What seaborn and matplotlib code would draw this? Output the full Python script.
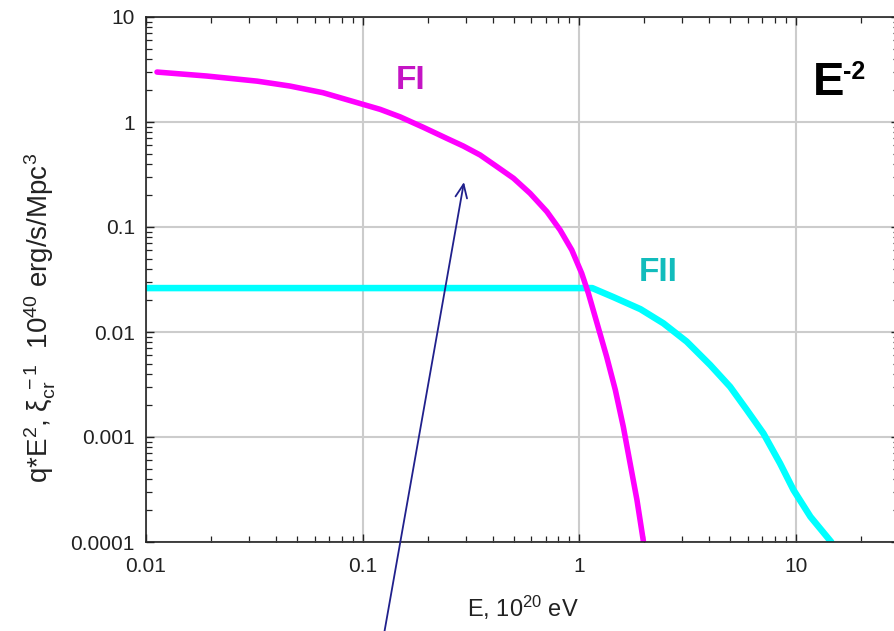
import numpy as np
import pandas as pd
import matplotlib
matplotlib.use("Agg")
import matplotlib.pyplot as plt
import seaborn as sns

# ---- data ----
fi_E = [0.01124, 0.0191, 0.0326, 0.0462, 0.0657, 0.0974, 0.1205, 0.149, 0.191,
        0.245, 0.292, 0.349, 0.417, 0.498, 0.594, 0.710, 0.817, 0.925, 1.028,
        1.104, 1.21, 1.34, 1.47, 1.60, 1.72, 1.85, 1.98]
fi_q = [2.99, 2.74, 2.45, 2.20, 1.90, 1.50, 1.32, 1.12, 0.889,
        0.698, 0.590, 0.485, 0.376, 0.291, 0.209, 0.140, 0.0936, 0.0604, 0.0362,
        0.0233, 0.0121, 0.00582, 0.0028, 0.00125, 0.000561, 0.000251, 0.000102]

fii_E = [0.01, 0.1, 1.0, 1.15, 1.44, 1.92, 2.45, 3.14, 4.03, 4.98, 5.95,
         7.10, 8.47, 9.77, 11.7, 14.6]
fii_q = [0.0262, 0.0262, 0.0262, 0.0262, 0.0215, 0.0165, 0.0121, 0.0081, 0.00485,
         0.00301, 0.00181, 0.00108, 0.000561, 0.000313, 0.000174, 0.0001]

x_ticks = [0.01, 0.1, 1, 10]
x_ticklabels = ["0.01", "0.1", "1", "10"]
y_ticks = [0.0001, 0.001, 0.01, 0.1, 1, 10]
y_ticklabels = ["0.0001", "0.001", "0.01", "0.1", "1", "10"]

df = pd.concat([
    pd.DataFrame({"E": fi_E, "q": fi_q, "model": "FI"}),
    pd.DataFrame({"E": fii_E, "q": fii_q, "model": "FII"}),
], ignore_index=True)

sns.set_theme(style="ticks")
plt.rcParams["font.family"] = ["Liberation Sans", "DejaVu Sans"]
plt.rcParams["mathtext.fontset"] = "custom"
plt.rcParams["mathtext.rm"] = "Liberation Sans"
plt.rcParams["mathtext.it"] = "Liberation Sans:italic"
plt.rcParams["mathtext.bf"] = "Liberation Sans:bold"

fig = plt.figure(figsize=(8.95, 6.31), dpi=100)
W, H = 895, 631
AX_L, AX_R, AX_T, AX_B = 146, 899, 17, 542
AW, AH = AX_R - AX_L, AX_B - AX_T
ax = fig.add_axes([AX_L / W, (H - AX_B) / H, AW / W, AH / H])

palette = {"FI": "#ff00ff", "FII": "#00ffff"}
sns.lineplot(data=df[df.model == "FII"], x="E", y="q", color=palette["FII"],
             lw=4.7, ax=ax, legend=False, sort=False, solid_capstyle="round",
             solid_joinstyle="round")
sns.lineplot(data=df[df.model == "FI"], x="E", y="q", color=palette["FI"],
             lw=4.0, ax=ax, legend=False, sort=False, solid_capstyle="round",
             solid_joinstyle="round")

ax.set_xscale("log")
ax.set_yscale("log")
ax.set_xlim(0.01, 30)
ax.set_ylim(0.0001, 10)
ax.set_xticks(x_ticks)
ax.set_xticklabels(x_ticklabels)
ax.set_yticks(y_ticks)
ax.set_yticklabels(y_ticklabels)
ax.grid(True, which="major", color="#cccccc", lw=1.5)
ax.set_axisbelow(True)
for s in ax.spines.values():
    s.set_color("#222222")
    s.set_linewidth(1.2)
ax.tick_params(which="both", direction="in", top=True, right=True,
               colors="#222222", labelsize=15, labelcolor="#222222")
ax.tick_params(which="major", length=6, width=1.0)
ax.tick_params(which="minor", length=4, width=0.9)
ax.tick_params(axis="x", which="major", pad=11)
ax.tick_params(axis="y", which="major", pad=8)

ax.set_xlabel(r"E, 10$^{20}$ eV", fontsize=17, color="#222222")
ax.xaxis.set_label_coords(0.5, -(594 - AX_B) / AH)
ax.set_ylabel(r"q*E$^2$, ξ$_{\mathrm{cr}}^{\ -1}$  10$^{40}$ erg/s/Mpc$^3$",
              fontsize=20, color="#222222")
ax.yaxis.set_label_coords(-(AX_L - 58) / AW, (AX_B - 318) / AH)

ax.annotate("FI", xy=(0.166, 2.5), fontsize=24, fontweight="bold",
            color="#c414c4", ha="center", va="center")
ax.annotate("FII", xy=(2.32, 0.037), fontsize=24, fontweight="bold",
            color="#12bcbc", ha="center", va="center")

ax.text(0.885, 0.874, "E", transform=ax.transAxes, fontsize=34,
        fontweight="bold", ha="left", va="center", color="black")
ax.text(0.926, 0.895, "-2", transform=ax.transAxes, fontsize=18,
        fontweight="bold", ha="left", va="center", color="black")

ax.annotate("", xy=(0.294, 0.268), xycoords="data",
            xytext=(384 / W, -0.005), textcoords="figure fraction",
            arrowprops=dict(arrowstyle="->,head_length=0.8,head_width=0.35",
                            color="#20208c", lw=1.3, shrinkA=0, shrinkB=0),
            annotation_clip=False)

fig.savefig("out.png", dpi=100)
